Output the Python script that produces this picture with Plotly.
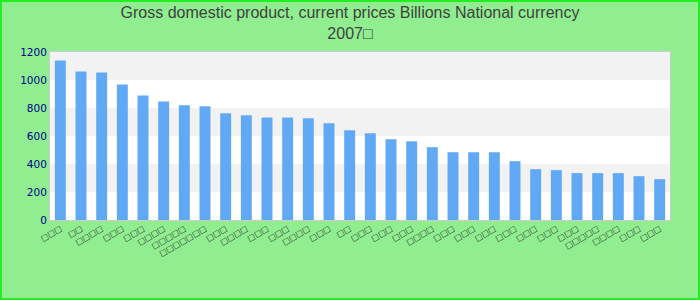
import plotly.graph_objects as go

# Category labels: the reference shows only missing-glyph boxes, reproduced as □
label_lengths = [3, 2, 4, 3, 3, 4, 5, 7, 3, 4, 3, 3, 4, 3, 2, 3, 3, 3, 4, 3, 3, 3, 3, 3, 3, 3, 5, 4, 3, 3]
categories = ["□" * n + "\u200b" * i for i, n in enumerate(label_lengths)]
values = [1139, 1061, 1054, 968, 890, 847, 819, 812, 762, 748,
          733, 733, 726, 691, 641, 619, 577, 562, 520, 484,
          484, 484, 420, 363, 356, 335, 335, 335, 313, 292]
y_ticks = [0, 200, 400, 600, 800, 1000, 1200]
title_text = "Gross domestic product, current prices Billions National currency<br>2007□"

W, H = 700, 300
ML, MR, MT, MB = 50, 30, 52, 80

fig = go.Figure()
fig.add_trace(go.Bar(x=categories, y=values, marker=dict(color="#62a9f5", line=dict(width=0))))

shapes = []
# alternating bands
for i in range(len(y_ticks) - 1):
    if (len(y_ticks) - 2 - i) % 2 == 0:
        shapes.append(dict(type="rect", xref="paper", yref="y", x0=0, x1=1,
                           y0=y_ticks[i], y1=y_ticks[i + 1], fillcolor="#f2f2f2",
                           line=dict(width=0), layer="below"))
pw = W - ML - MR
ph = H - MT - MB
shapes.append(dict(type="rect", xref="paper", yref="paper",
                   x0=(-ML + 1) / pw, x1=(W - ML - 1) / pw,
                   y0=(-MB + 1) / ph, y1=(H - MB - 1) / ph,
                   line=dict(color="#22ee22", width=2), fillcolor="rgba(0,0,0,0)"))

fig.update_layout(
    width=W, height=H,
    margin=dict(l=ML, r=MR, t=MT, b=MB),
    paper_bgcolor="#90ee90",
    plot_bgcolor="#ffffff",
    showlegend=False,
    bargap=0.47,
    shapes=shapes,
    title=dict(text=title_text, x=0.5, xref="container", xanchor="center",
               y=0.94, yref="container", yanchor="top",
               font=dict(family="Liberation Sans Narrow, Arial Narrow, sans-serif", size=16, color="#404040")),
    xaxis=dict(type="category", tickangle=-30, showgrid=False,
               tickfont=dict(family="DejaVu Sans", size=8, color="#222222"),
               showline=True, linecolor="#cccccc", linewidth=1, mirror=True,
               ticks="", range=[-0.5, len(values) - 0.5]),
    yaxis=dict(range=[0, 1200], tickvals=y_ticks, showgrid=False, zeroline=False,
               tickfont=dict(family="DejaVu Sans", size=10.5, color="#00008b"),
               showline=True, linecolor="#cccccc", linewidth=1, mirror=True,
               ticks="", ticklen=0),
)

fig.write_html("out.html")
